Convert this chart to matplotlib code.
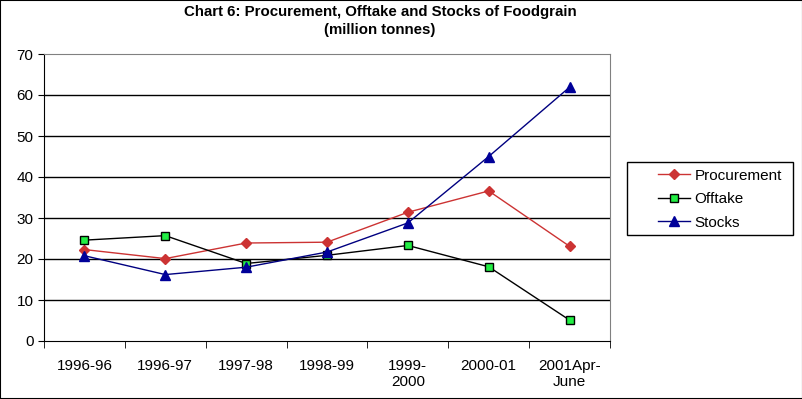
import matplotlib.pyplot as plt
import numpy as np
from matplotlib.patches import Rectangle

plt.rcParams['font.family'] = ['Liberation Sans', 'DejaVu Sans']

years = ['1996-96', '1996-97', '1997-98', '1998-99', '1999-\n2000', '2000-01', '2001Apr-\nJune']
procurement = [22.3, 20.1, 23.9, 24.1, 31.4, 36.6, 23.1]
offtake = [24.6, 25.7, 18.9, 20.9, 23.3, 18.1, 5.1]
stocks = [20.8, 16.2, 18.0, 21.7, 28.8, 45.0, 61.9]

fig = plt.figure(figsize=(8.03, 3.99), dpi=100)
ax = fig.add_axes([44 / 803, 58 / 399, 566 / 803, 287 / 399])

x = np.arange(len(years))
ax.plot(x, procurement, color='#cc3333', lw=1, marker='D', ms=5,
        mfc='#cc3333', mec='#cc3333', label='Procurement', zorder=3)
ax.plot(x, offtake, color='black', lw=1, marker='s', ms=6,
        mfc='#22ee44', mec='black', mew=1, label='Offtake', zorder=3)
ax.plot(x, stocks, color='#000080', lw=1, marker='^', ms=7,
        mfc='#000099', mec='#000099', label='Stocks', zorder=3)

ax.set_xlim(-0.5, len(years) - 0.5)
ax.set_ylim(0, 70)
ax.set_yticks(range(0, 71, 10))
for v in range(10, 70, 10):
    ax.axhline(v, color='black', lw=1, zorder=1)

ax.set_xticks(x)
ax.set_xticklabels(years, fontsize=11)
ax.set_xticks(np.arange(-0.5, len(years)), minor=True)
ax.tick_params(axis='x', which='major', length=0, pad=13)
ax.tick_params(axis='x', which='minor', length=5, direction='out', color='black')
ax.tick_params(axis='y', length=4, direction='out', labelsize=11, color='black')

ax.spines['left'].set_color('black')
ax.spines['bottom'].set_color('black')
ax.spines['top'].set_color('#808080')
ax.spines['right'].set_color('#808080')

leg = ax.legend(loc='upper left', bbox_to_anchor=(650 / 803, 1 - 161 / 399),
                bbox_transform=fig.transFigure, frameon=False, fontsize=11,
                handlelength=2.1, handletextpad=0.3, borderpad=0,
                labelspacing=0.62)
# legend box drawn separately (wider padding on the left than on top)
fig.patches.append(Rectangle((627 / 803, 1 - 235 / 399), 166 / 803, 73 / 399,
                             transform=fig.transFigure, fill=False,
                             edgecolor='black', lw=1))

fig.text(380 / 803, 1 - 12 / 399, 'Chart 6: Procurement, Offtake and Stocks of Foodgrain',
         ha='center', va='center', fontsize=10.8, fontweight='bold')
fig.text(380 / 803, 1 - 30 / 399, '(million tonnes)',
         ha='center', va='center', fontsize=10.8, fontweight='bold')

fig.patches.append(Rectangle((0, 0), 1, 1, transform=fig.transFigure,
                             fill=False, edgecolor='black', lw=1.5))

fig.savefig('out.png', dpi=100)
